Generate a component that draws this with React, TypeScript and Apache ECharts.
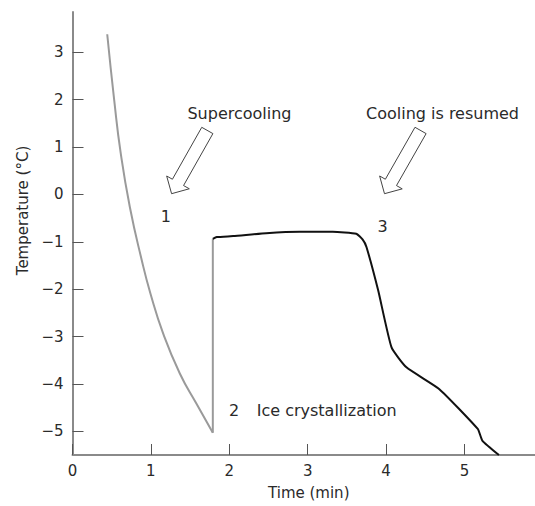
import React, { useEffect, useRef } from "react";
import * as echarts from "echarts";

const xTicks = [0, 1, 2, 3, 4, 5];
const yTicks = [-5, -4, -3, -2, -1, 0, 1, 2, 3];

const supercoolingCurve: [number, number][] = [
  [0.443, 3.38], [0.532, 1.99], [0.615, 0.87], [0.732, -0.27], [0.885, -1.4],
  [0.994, -2.09], [1.157, -2.94], [1.369, -3.78], [1.582, -4.42], [1.79, -5.03],
];
const nucleationJump: [number, number][] = [[1.79, -5.03], [1.79, -0.94]];
const freezingCurve: [number, number][] = [
  [1.79, -0.94], [1.84, -0.9], [2.05, -0.88], [2.47, -0.82], [2.9, -0.79],
  [3.32, -0.79], [3.62, -0.83], [3.7, -0.95], [3.75, -1.11], [3.9, -2.03],
  [4.07, -3.23], [4.26, -3.65], [4.68, -4.11], [5.17, -4.95], [5.23, -5.2],
  [5.44, -5.5],
];

const annotations: { text: string; at: [number, number]; align: string }[] = [
  { text: "Supercooling", at: [2.13, 1.71], align: "center" },
  { text: "Cooling is resumed", at: [4.72, 1.71], align: "center" },
  { text: "1", at: [1.19, -0.47], align: "center" },
  { text: "3", at: [3.955, -0.68], align: "center" },
  { text: "2", at: [2.06, -4.57], align: "center" },
  { text: "Ice crystallization", at: [2.35, -4.57], align: "left" },
];
const arrows: { tail: [number, number]; tip: [number, number] }[] = [
  { tail: [1.72, 1.35], tip: [1.264, 0.015] },
  { tail: [4.44, 1.35], tip: [3.98, 0.015] },
];

const FONT = "DejaVu Sans";
const TEXT = "#2a2a2a";
const AXIS = "#8a8a8a";

function arrowPoints(t: number[], h: number[]) {
  const dx = h[0] - t[0];
  const dy = h[1] - t[1];
  const len = Math.sqrt(dx * dx + dy * dy);
  const ux = dx / len, uy = dy / len;
  const nx = -uy, ny = ux;
  const sw = 6.4, hw = 13, hl = 13;
  const bx = h[0] - ux * hl, by = h[1] - uy * hl;
  return [
    [t[0] + nx * sw, t[1] + ny * sw],
    [bx + nx * sw, by + ny * sw],
    [bx + nx * hw, by + ny * hw],
    [h[0], h[1]],
    [bx - nx * hw, by - ny * hw],
    [bx - nx * sw, by - ny * sw],
    [t[0] - nx * sw, t[1] - ny * sw],
  ];
}

export default function App() {
  const ref = useRef<HTMLDivElement>(null);
  useEffect(() => {
    if (!ref.current) return;
    const chart = echarts.init(ref.current, null, { renderer: "svg" });
    const fmt = (v: number) => String(v).replace("-", "\u2212");
    chart.setOption({
      animation: false,
      backgroundColor: "#fff",
      grid: { left: 72.5, right: 0, top: 12, bottom: 51 },
      xAxis: {
        type: "value",
        min: 0,
        max: 5.9,
        name: "Time (min)",
        nameLocation: "middle",
        nameGap: 30,
        nameTextStyle: { fontFamily: FONT, fontSize: 15, color: TEXT, padding: [0, 0, 0, 10] },
        axisLine: { show: true, onZero: false, lineStyle: { color: AXIS, width: 2 } },
        axisTick: { show: true, inside: true, length: 11, customValues: xTicks, lineStyle: { color: "#555", width: 1 } },
        axisLabel: { customValues: xTicks, margin: 8, fontFamily: FONT, fontSize: 15, color: TEXT, formatter: fmt },
        splitLine: { show: false },
      },
      yAxis: {
        type: "value",
        min: -5.5,
        max: 3.85,
        name: "Temperature (\u00b0C)",
        nameLocation: "middle",
        nameGap: 42,
        nameRotate: 90,
        nameTextStyle: { fontFamily: FONT, fontSize: 15, color: TEXT, padding: [0, 0, 0, 46] },
        axisLine: { show: true, onZero: false, lineStyle: { color: AXIS, width: 2 } },
        axisTick: { show: true, inside: true, length: 11, customValues: yTicks, lineStyle: { color: "#555", width: 1 } },
        axisLabel: { customValues: yTicks, margin: 9, fontFamily: FONT, fontSize: 15, color: TEXT, formatter: fmt },
        splitLine: { show: false },
      },
      series: [
        { type: "line", data: supercoolingCurve, smooth: 0.5, showSymbol: false, lineStyle: { color: "#9a9a9a", width: 2 } },
        { type: "line", data: nucleationJump, showSymbol: false, lineStyle: { color: "#9a9a9a", width: 2 } },
        { type: "line", data: freezingCurve, smooth: 0.15, showSymbol: false, lineStyle: { color: "#111", width: 2 } },
      ],
    });
    const graphics: any[] = [];
    annotations.forEach((a) => {
      const p = chart.convertToPixel({ gridIndex: 0 }, a.at) as number[];
      graphics.push({
        type: "text",
        x: p[0],
        y: p[1],
        style: { text: a.text, fontFamily: FONT, fontSize: 16, fill: TEXT, align: a.align, verticalAlign: "middle" },
      });
    });
    arrows.forEach((a) => {
      const t = chart.convertToPixel({ gridIndex: 0 }, a.tail) as number[];
      const h = chart.convertToPixel({ gridIndex: 0 }, a.tip) as number[];
      graphics.push({
        type: "polygon",
        shape: { points: arrowPoints(t, h) },
        style: { fill: "#fff", stroke: "#444", lineWidth: 1 },
      });
    });
    chart.setOption({ graphic: graphics });
    return () => chart.dispose();
  }, []);
  return <div ref={ref} style={{ position: "fixed", left: 0, top: 0, width: 535, height: 506 }} />;
}
